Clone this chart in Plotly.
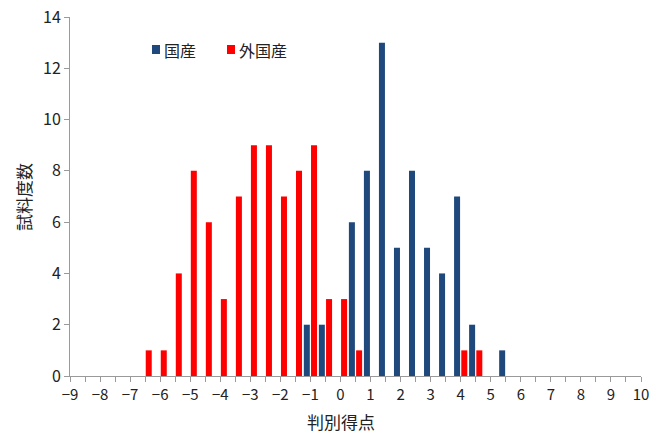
import plotly.graph_objects as go

# Bin centres (discriminant score, bin width 0.5) and sample counts
domestic_bins = [-1.0, -0.5, 0.5, 1.0, 1.5, 2.0, 2.5, 3.0, 3.5, 4.0, 4.5, 5.5]
domestic_counts = [2, 2, 6, 8, 13, 5, 8, 5, 4, 7, 2, 1]

foreign_bins = [-6.5, -6.0, -5.5, -5.0, -4.5, -4.0, -3.5, -3.0, -2.5, -2.0,
                -1.5, -1.0, -0.5, 0.0, 0.5, 4.0, 4.5]
foreign_counts = [1, 1, 4, 8, 6, 3, 7, 9, 9, 7, 8, 9, 3, 3, 1, 1, 1]

x_ticks = list(range(-9, 11))
y_ticks = list(range(0, 15, 2))

FONT = "Noto Sans CJK JP"
AXIS_COLOR = "#9a9a9a"
TEXT_COLOR = "#222222"
BLUE = "#1F497D"
RED = "#FF0000"

W, H = 656, 436
ML, MR, MT, MB = 70, 15, 17, 60
PW, PH = W - ML - MR, H - MT - MB


def px_x(px):
    return (px - ML) / PW


def px_y(py):
    return (H - MB - py) / PH


fig = go.Figure()
fig.add_trace(go.Bar(
    x=domestic_bins, y=domestic_counts, name="国産",
    marker=dict(color=BLUE, line=dict(width=0)),
    width=0.2, offset=-0.22,
))
fig.add_trace(go.Bar(
    x=foreign_bins, y=foreign_counts, name="外国産",
    marker=dict(color=RED, line=dict(width=0)),
    width=0.2, offset=0.02,
))

# Legend drawn as small colour swatches with labels
legend_items = [("国産", BLUE, 152), ("外国産", RED, 227)]
shapes = []
annotations = []
for label, color, sx in legend_items:
    shapes.append(dict(
        type="rect", xref="paper", yref="paper",
        x0=px_x(sx), x1=px_x(sx + 8), y0=px_y(54), y1=px_y(45),
        fillcolor=color, line=dict(width=0),
    ))
    annotations.append(dict(
        text=label, xref="paper", yref="paper",
        x=px_x(sx + 10), y=px_y(50), xanchor="left", yanchor="middle",
        showarrow=False, font=dict(family=FONT, size=16, color=TEXT_COLOR),
    ))

# Axis titles
annotations.append(dict(
    text="判別得点", xref="paper", yref="paper",
    x=px_x(341), y=px_y(435), xanchor="center", yanchor="bottom",
    borderpad=0, showarrow=False,
    font=dict(family=FONT, size=17, color=TEXT_COLOR),
))
annotations.append(dict(
    text="試料度数", xref="paper", yref="paper",
    x=px_x(23), y=px_y(197), xanchor="center", yanchor="middle",
    textangle=-90, showarrow=False,
    font=dict(family=FONT, size=17, color=TEXT_COLOR),
))

fig.update_layout(
    width=W, height=H,
    margin=dict(l=ML, r=MR, t=MT, b=MB, autoexpand=False),
    paper_bgcolor="white", plot_bgcolor="white",
    font=dict(family=FONT, size=16, color=TEXT_COLOR),
    showlegend=False,
    shapes=shapes,
    annotations=annotations,
    xaxis=dict(
        range=[-9, 10], tickmode="array", tickvals=x_ticks,
        ticktext=[("−" + str(-v)) if v < 0 else str(v) for v in x_ticks],
        ticks="outside", ticklen=5, tickcolor=AXIS_COLOR,
        minor=dict(dtick=0.5, ticks="outside", ticklen=5, tickcolor=AXIS_COLOR),
        showline=True, linecolor=AXIS_COLOR, linewidth=1,
        showgrid=False, zeroline=False, automargin=False,
        tickfont=dict(family=FONT, size=15, color=TEXT_COLOR),
    ),
    yaxis=dict(
        range=[0, 14], tickmode="array", tickvals=y_ticks,
        ticks="outside", ticklen=5, tickcolor=AXIS_COLOR,
        showline=True, linecolor=AXIS_COLOR, linewidth=1,
        showgrid=False, zeroline=False, automargin=False,
        tickfont=dict(family=FONT, size=16, color=TEXT_COLOR),
    ),
)

fig.write_html("out.html")
